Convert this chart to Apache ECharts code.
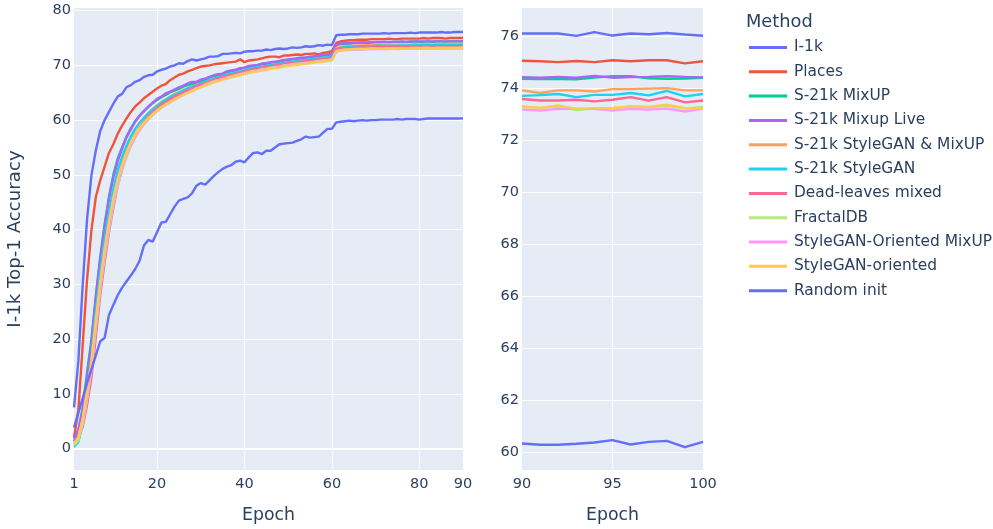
<!DOCTYPE html>
<html><head><meta charset="utf-8">
<script src="https://cdn.jsdelivr.net/npm/echarts@6/dist/echarts.min.js"></script>
<style>html,body{margin:0;padding:0;background:#fff}#c{width:993px;height:529px}</style>
</head><body><div id="c"></div>
<script>
const methods = ['I-1k','Places','S-21k MixUP','S-21k Mixup Live','S-21k StyleGAN & MixUP','S-21k StyleGAN','Dead-leaves mixed','FractalDB','StyleGAN-Oriented MixUP','StyleGAN-oriented','Random init'];
const colors = ['#636efa','#EF553B','#00cc96','#ab63fa','#FFA15A','#19d3f3','#FF6692','#B6E880','#FF97FF','#FECB52','#636efa'];
const leftXTicks = [1,20,40,60,80,90];
const leftYTicks = [0,10,20,30,40,50,60,70,80];
const rightXTicks = [90,95,100];
const rightYTicks = [60,62,64,66,68,70,72,74,76];

const I1k = [7.5,16,30,42,50,54.5,58,60,61.5,63,
64.3,64.8,66,66.4,67,67.3,67.9,68.2,68.3,68.9,
69.2,69.4,69.8,70.0,70.4,70.3,70.8,71.1,70.9,71.1,
71.3,71.6,71.6,71.7,72.1,72.1,72.2,72.3,72.2,72.5,
72.6,72.6,72.7,72.7,72.9,72.8,73.0,73.1,73.0,73.1,
73.3,73.2,73.3,73.5,73.4,73.5,73.7,73.6,73.8,73.7,
75.5,75.6,75.6,75.7,75.7,75.7,75.8,75.8,75.8,75.8,
75.8,75.9,75.8,75.9,75.9,75.9,75.9,76.0,75.9,76.0,
76.0,76.0,76.0,76.0,76.1,76.0,76.0,76.1,76.1,
76.1,76.1,76.1,76.01,76.15,76.02,76.1,76.07,76.12,76.06,76.01];

const Places = [2,7,19,31,40,46,49,51.5,54,55.6,
57.5,59,60.3,61.5,62.5,63.2,64,64.6,65.2,65.8,
66.3,66.6,67.3,67.8,68.3,68.5,68.9,69.2,69.5,69.8,
69.9,70.0,70.2,70.3,70.4,70.5,70.6,70.7,71.1,70.6,
70.9,71.0,71.1,71.3,71.5,71.6,71.6,71.5,71.8,71.8,
71.9,72.0,71.9,72.1,72.1,72.2,72.0,72.3,72.4,72.6,
74.1,74.4,74.5,74.6,74.6,74.7,74.7,74.7,74.8,74.8,
74.8,74.8,74.9,74.8,74.8,74.9,74.9,74.9,74.9,74.9,
75.0,74.9,75.0,75.0,75.0,74.9,75.0,75.0,75.0,
75.05,75.03,75.0,75.04,75.0,75.07,75.03,75.07,75.07,74.95,75.03];

const S21kMixUP = [1.3,3.2,7.5,14,20,28,35,41,46,50,
53,55,57,58.5,59.8,60.8,61.7,62.4,63.1,63.7,
64.2,64.6,65.1,65.4,65.7,66.1,66.4,66.6,66.9,67.1,
67.4,67.8,68.0,68.2,68.4,68.8,68.9,69.1,69.4,69.5,
69.7,69.9,70.0,70.3,70.3,70.5,70.6,70.7,70.9,71.0,
71.1,71.2,71.3,71.4,71.5,71.6,71.6,71.8,71.9,72.0,
73.7,73.9,74.0,74.0,74.1,74.1,74.2,74.1,74.2,74.2,
74.2,74.3,74.2,74.3,74.3,74.3,74.3,74.3,74.4,74.3,
74.3,74.4,74.3,74.4,74.4,74.3,74.4,74.4,74.4,
74.36,74.35,74.35,74.34,74.4,74.46,74.46,74.38,74.36,74.37,74.4];

const S21kMixupLive = [1.8,3.5,7,13,19.5,27.5,34.5,40.5,45.5,49.5,
52.5,54.8,56.8,58.3,59.7,60.8,61.6,62.5,63.2,63.9,
64.3,64.9,65.2,65.6,66.0,66.3,66.7,67.0,67.0,67.4,
67.6,67.9,68.2,68.4,68.5,68.9,69.1,69.2,69.5,69.6,
69.9,70.0,70.1,70.3,70.4,70.6,70.7,70.8,71.0,71.1,
71.2,71.3,71.4,71.4,71.6,71.7,71.8,71.9,72.0,72.1,
73.8,74.0,74.0,74.1,74.1,74.2,74.2,74.2,74.2,74.3,
74.3,74.3,74.3,74.3,74.3,74.4,74.3,74.4,74.4,74.4,
74.4,74.4,74.4,74.4,74.4,74.4,74.4,74.4,74.4,
74.42,74.4,74.43,74.4,74.47,74.4,74.42,74.43,74.46,74.43,74.41];

const S21kStyleGANMixUP = [0.9,2.2,5.5,10.5,16,24,31,37,42,46.5,
50,52.7,55,56.8,58.3,59.5,60.4,61.3,62.0,62.7,
63.3,63.8,64.3,64.8,65.1,65.5,65.8,66.1,66.4,66.6,
66.9,67.2,67.4,67.6,67.9,68.1,68.3,68.5,68.7,68.9,
69.1,69.2,69.4,69.6,69.7,69.9,70.0,70.1,70.2,70.4,
70.5,70.6,70.7,70.8,70.9,71.0,71.1,71.2,71.3,71.4,
73.2,73.4,73.5,73.5,73.6,73.6,73.7,73.7,73.7,73.7,
73.7,73.8,73.8,73.8,73.8,73.8,73.8,73.8,73.9,73.8,
73.9,73.9,73.8,73.9,73.9,73.9,73.9,73.9,73.9,
73.91,73.81,73.91,73.91,73.87,73.96,73.96,73.98,74.0,73.91,73.91];

const S21kStyleGAN = [0.3,1.2,4.5,10,16.5,25,32,38,43,47.5,
50.8,53.3,55.3,57,58.4,59.5,60.4,61.2,62.0,62.6,
63.2,63.7,64.2,64.6,65.0,65.4,65.8,66.1,66.4,66.7,
67.0,67.3,67.6,67.8,68.0,68.3,68.5,68.7,68.9,69.1,
69.3,69.5,69.6,69.8,69.9,70.1,70.2,70.3,70.5,70.6,
70.7,70.8,70.9,71.0,71.1,71.2,71.3,71.4,71.5,71.6,
73.0,73.2,73.3,73.4,73.4,73.5,73.5,73.5,73.5,73.6,
73.6,73.6,73.6,73.6,73.6,73.7,73.6,73.7,73.7,73.7,
73.7,73.7,73.7,73.7,73.7,73.7,73.7,73.7,73.7,
73.7,73.73,73.77,73.65,73.74,73.74,73.81,73.72,73.89,73.68,73.77];

const DeadLeaves = [1.5,2.0,4.0,8,13,20.5,28,34,39.5,44,
48,51,53.5,55.5,57.2,58.6,59.7,60.6,61.5,62.2,
62.8,63.3,63.8,64.3,64.7,65.1,65.5,65.8,66.2,66.5,
66.8,67.1,67.4,67.6,67.9,68.1,68.3,68.5,68.7,68.9,
69.1,69.3,69.4,69.6,69.8,69.9,70.0,70.2,70.3,70.4,
70.5,70.6,70.7,70.8,70.9,71.0,71.1,71.2,71.3,71.4,
72.9,73.0,73.1,73.2,73.2,73.3,73.3,73.3,73.3,73.4,
73.4,73.4,73.4,73.4,73.4,73.5,73.4,73.5,73.5,73.5,
73.5,73.5,73.5,73.5,73.5,73.5,73.5,73.5,73.5,
73.58,73.52,73.52,73.55,73.49,73.55,73.65,73.52,73.65,73.45,73.52];

const FractalDB = [0.6,1.5,4.5,9,14.5,22,29,35,40,44.5,
48,50.8,53.2,55.2,56.8,58.1,59.2,60.1,60.9,61.6,
62.2,62.8,63.3,63.8,64.2,64.6,65.0,65.4,65.8,66.1,
66.5,66.8,67.1,67.3,67.5,67.8,68.0,68.2,68.4,68.6,
68.8,69.0,69.1,69.3,69.4,69.6,69.7,69.8,70.0,70.1,
70.2,70.3,70.4,70.5,70.6,70.7,70.8,70.9,71.0,71.1,
72.6,72.8,72.8,72.9,72.9,73.0,73.0,73.0,73.0,73.0,
73.1,73.1,73.1,73.1,73.1,73.1,73.1,73.1,73.2,73.1,
73.2,73.2,73.1,73.2,73.2,73.2,73.2,73.2,73.2,
73.27,73.25,73.29,73.15,73.22,73.24,73.27,73.26,73.32,73.22,73.27];

const OrientedMixUP = [1.0,2.0,5.0,9.5,15,22.5,29.5,35.5,40.5,45,
48.5,51.2,53.5,55.3,56.9,58.2,59.3,60.2,61.0,61.7,
62.3,62.8,63.3,63.8,64.2,64.6,65.0,65.4,65.7,66.1,
66.4,66.7,67.0,67.2,67.5,67.7,67.9,68.1,68.3,68.5,
68.7,68.9,69.0,69.2,69.3,69.5,69.6,69.7,69.9,70.0,
70.1,70.2,70.3,70.4,70.5,70.6,70.7,70.8,70.9,71.0,
72.5,72.7,72.8,72.8,72.9,72.9,72.9,73.0,73.0,73.0,
73.0,73.0,73.0,73.1,73.0,73.1,73.1,73.1,73.1,73.1,
73.1,73.1,73.1,73.1,73.1,73.1,73.1,73.1,73.1,
73.17,73.14,73.2,73.2,73.2,73.14,73.2,73.17,73.21,73.1,73.2];

const StyleGANOriented = [0.8,2.0,5.5,10.5,16,23.5,30.5,36.5,41.5,45.8,
49.2,51.8,54,55.8,57.3,58.5,59.5,60.4,61.1,61.8,
62.4,62.9,63.4,63.8,64.2,64.6,65.0,65.3,65.7,66.0,
66.3,66.6,66.9,67.1,67.4,67.6,67.8,68.0,68.2,68.4,
68.6,68.8,68.9,69.1,69.2,69.4,69.5,69.6,69.8,69.9,
70.0,70.1,70.2,70.3,70.4,70.5,70.6,70.7,70.8,70.9,
72.6,72.8,72.9,72.9,73.0,73.0,73.0,73.0,73.1,73.1,
73.1,73.1,73.1,73.1,73.1,73.2,73.1,73.2,73.2,73.2,
73.2,73.2,73.2,73.2,73.2,73.2,73.2,73.2,73.2,
73.3,73.23,73.33,73.2,73.23,73.23,73.3,73.27,73.36,73.23,73.2];

const RandomInit = [3.8,6.5,9.2,12,14.5,17,19.6,20.2,24.4,26.2,
28,29.4,30.5,31.6,32.8,34.3,37.1,38.1,37.8,39.5,
41.3,41.4,42.8,44.2,45.3,45.6,45.9,46.6,48.0,48.5,
48.2,49.0,49.8,50.5,51.1,51.5,51.8,52.4,52.6,52.3,
53.2,54.0,54.1,53.8,54.4,54.4,55.0,55.6,55.7,55.8,
55.9,56.2,56.5,57.0,56.8,56.9,57.0,57.7,58.4,58.4,
59.6,59.7,59.8,59.9,59.8,59.9,60.0,59.9,60.0,60.0,
60.1,60.1,60.1,60.1,60.2,60.1,60.2,60.2,60.2,60.1,
60.2,60.3,60.3,60.3,60.3,60.3,60.3,60.3,60.3,
60.33,60.28,60.28,60.32,60.37,60.46,60.29,60.39,60.43,60.19,60.39];

const seriesValues = [I1k, Places, S21kMixUP, S21kMixupLive, S21kStyleGANMixUP, S21kStyleGAN, DeadLeaves, FractalDB, OrientedMixUP, StyleGANOriented, RandomInit];
const epochs = I1k.map((_, i) => i + 1);

const FONT = 'DejaVu Sans';
const TXT = '#2a3f5f';

const series = [];
seriesValues.forEach((vals, k) => {
  const pairs = vals.map((v, i) => [epochs[i], v]);
  const common = {
    type: 'line', name: methods[k], symbol: 'none', showSymbol: false,
    lineStyle: { color: colors[k], width: 2.4 }, itemStyle: { color: colors[k] },
    emphasis: { disabled: true }, animation: false, clip: true
  };
  const left = Object.assign({}, common, { xAxisIndex: 0, yAxisIndex: 0, data: pairs.filter(p => p[0] <= 90) });
  if (k === 0) {
    left.markLine = { silent: true, symbol: 'none', label: { show: false },
      lineStyle: { color: '#ffffff', width: 2, type: 'solid' }, data: [{ yAxis: 0 }], z: 1 };
  }
  series.push(left);
  series.push(Object.assign({}, common, { xAxisIndex: 1, yAxisIndex: 1, data: pairs.filter(p => p[0] >= 90) }));
});

function xAx(grid, min, max, labels, splits) {
  return {
    type: 'value', gridIndex: grid, min: min, max: max,
    axisLine: { show: false },
    axisTick: { show: false, customValues: splits },
    splitLine: { show: true, lineStyle: { color: '#ffffff', width: 1 } },
    axisLabel: { customValues: labels, color: TXT, fontSize: 14.5, fontFamily: FONT, margin: 7 },
    name: 'Epoch', nameLocation: 'middle', nameGap: 37,
    nameTextStyle: { color: TXT, fontSize: 17.3, fontFamily: FONT }
  };
}
function yAx(grid, min, max, ticks, name) {
  const o = {
    type: 'value', gridIndex: grid, min: min, max: max,
    axisLine: { show: false },
    axisTick: { show: false, customValues: ticks },
    splitLine: { show: true, lineStyle: { color: '#ffffff', width: 1 } },
    axisLabel: { customValues: ticks, color: TXT, fontSize: 14.5, fontFamily: FONT, margin: 3 }
  };
  if (name) {
    o.name = name; o.nameLocation = 'middle'; o.nameGap = 50; o.nameRotate = 90;
    o.nameTextStyle = { color: TXT, fontSize: 18.2, fontFamily: FONT };
  }
  return o;
}

const chart = echarts.init(document.getElementById('c'), null, { renderer: 'canvas' });
chart.setOption({
  animation: false,
  backgroundColor: '#ffffff',
  textStyle: { fontFamily: FONT },
  title: { text: 'Method', left: 741, top: 8, textStyle: { color: TXT, fontSize: 17.8, fontWeight: 'normal', fontFamily: FONT } },
  legend: {
    orient: 'vertical', left: 744, top: 34.4, itemWidth: 38, itemHeight: 3, itemGap: 8.33, icon: 'rect',
    data: methods,
    textStyle: { color: TXT, fontSize: 15.4, lineHeight: 16, height: 16, fontFamily: FONT, padding: [0, 0, 0, 2] },
    selectedMode: false
  },
  grid: [
    { left: 74, top: 8, width: 389, height: 464, show: true, backgroundColor: '#E5ECF6', borderWidth: 0, containLabel: false },
    { left: 522, top: 8, width: 181, height: 464, show: true, backgroundColor: '#E5ECF6', borderWidth: 0, containLabel: false }
  ],
  xAxis: [ xAx(0, 1, 90, leftXTicks, [20, 40, 60, 80]), xAx(1, 90, 100, rightXTicks, [95]) ],
  yAxis: [ yAx(0, -3.93, 80.49, leftYTicks, 'I-1k Top-1 Accuracy'), yAx(1, 59.31, 77.08, rightYTicks, null) ],
  series: series
});
</script>
</body></html>
